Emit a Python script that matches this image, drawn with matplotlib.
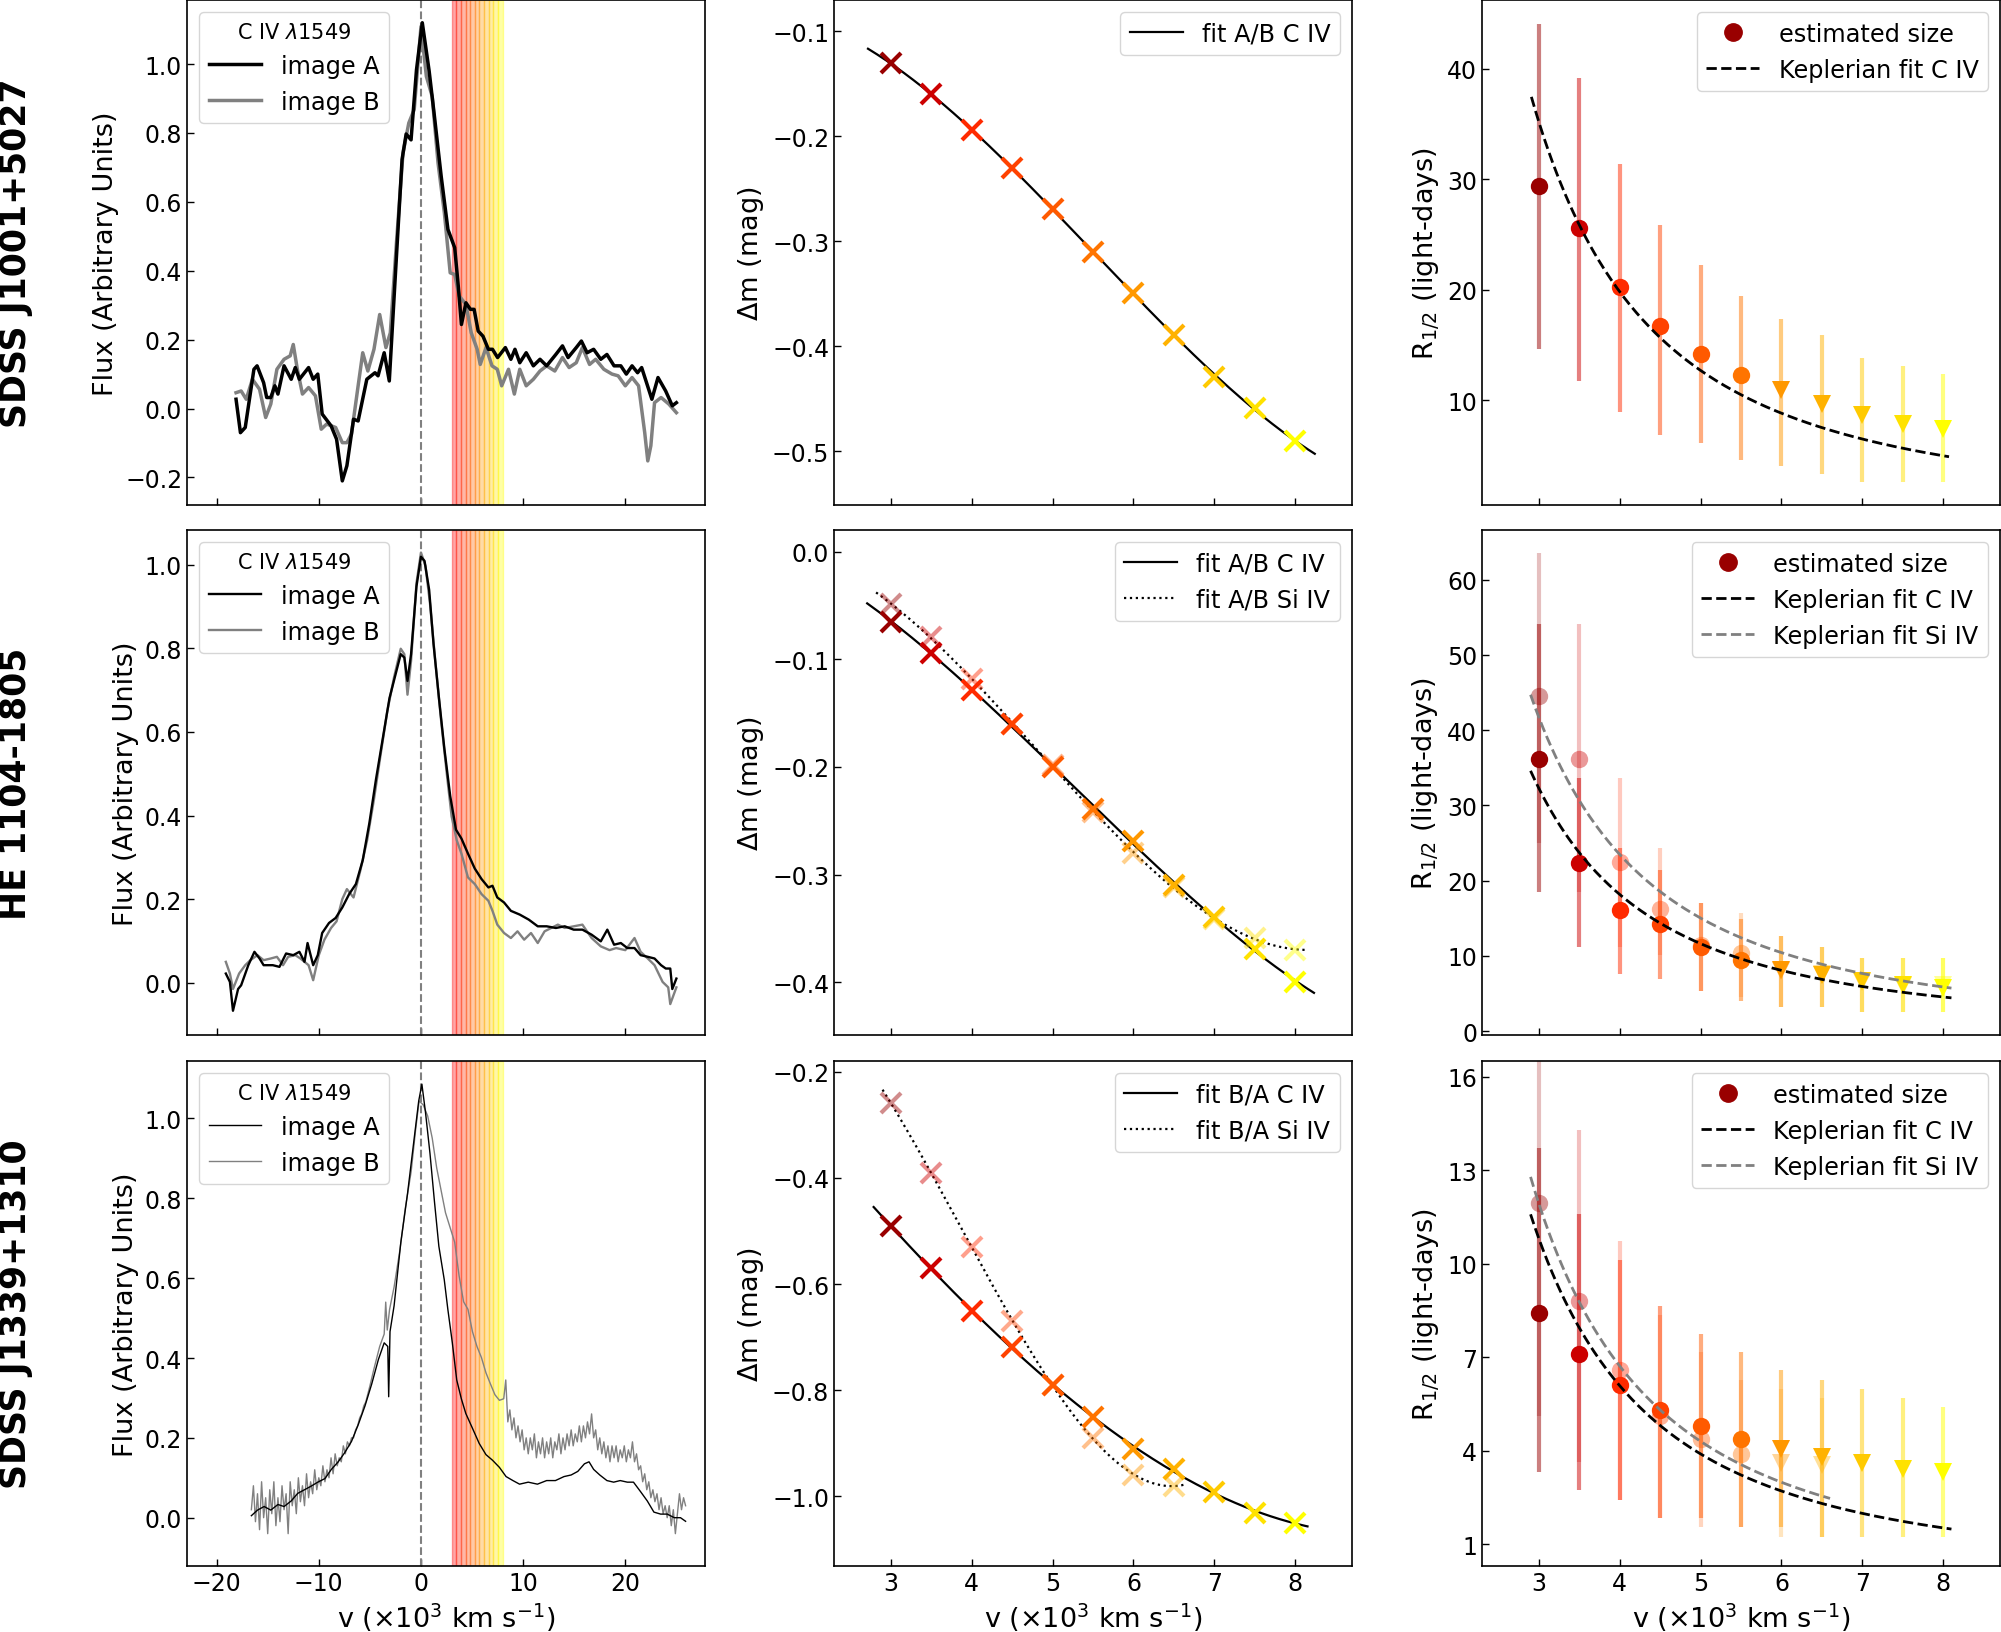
"""
Spectra, magnitude differences and Keplerian size fits for three lensed quasars
"""
import numpy as np
import matplotlib
matplotlib.use("Agg")
import matplotlib.pyplot as plt
from matplotlib.lines import Line2D

plt.rcParams["font.family"] = "DejaVu Sans"
plt.rcParams["mathtext.fontset"] = "dejavusans"

# ---------------- spectra (v in 1e3 km/s, flux) ----------------
v1_a = [-18.1, -17.67, -17.2, -16.35, -16.04, -15.4, -15.1, -14.7, -14.3, -14.0, -13.4, -12.7, -12.3,
        -11.9, -11.0, -10.55, -10.1, -9.67, -8.8, -8.26, -7.7, -7.25, -6.6, -6.15, -5.3, -4.5, -4.2,
        -3.6, -3.1, -2.55, -1.85, -1.45, -0.97, -0.44, 0.13, 0.8, 1.3, 1.98, 2.64, 3.3, 3.65, 3.96,
        4.4, 4.84, 5.2, 5.6, 6.07, 6.6, 7.0, 7.5, 8.26, 8.8, 9.2, 9.67, 10.3, 11.0, 11.65, 12.3, 13.2,
        13.85, 14.4, 15.2, 15.7, 16.26, 16.9, 17.6, 18.2, 18.9, 19.56, 20.1, 20.66, 21.2, 21.6, 22.6,
        23.2, 23.95, 24.6, 25.0]
f1_a = [0.027, -0.07, -0.055, 0.114, 0.124, 0.075, 0.032, 0.032, 0.066, 0.042, 0.124, 0.085, 0.119,
        0.085, 0.119, 0.085, 0.10, -0.016, -0.05, -0.089, -0.21, -0.166, -0.031, -0.036, 0.085, 0.104,
        0.095, 0.162, 0.08, 0.365, 0.723, 0.797, 0.78, 0.983, 1.12, 0.98, 0.853, 0.674, 0.52, 0.467,
        0.356, 0.244, 0.307, 0.288, 0.288, 0.225, 0.21, 0.172, 0.172, 0.148, 0.177, 0.143, 0.172,
        0.133, 0.162, 0.124, 0.143, 0.124, 0.157, 0.182, 0.148, 0.177, 0.196, 0.162, 0.172, 0.143,
        0.157, 0.124, 0.124, 0.10, 0.124, 0.104, 0.119, 0.027, 0.09, 0.051, 0.008, 0.017]
v1_b = [-18.1, -17.6, -17.1, -16.5, -15.8, -15.2, -14.7, -14.1, -13.4, -12.8, -12.5, -12.1, -11.6,
        -11.0, -10.33, -9.76, -9.23, -8.35, -7.7, -7.25, -6.8, -6.15, -5.7, -5.2, -4.6, -4.04, -3.43,
        -3.0, -2.4, -1.76, -1.19, -0.66, 0.0, 0.53, 1.1, 1.67, 2.29, 2.86, 3.3, 3.74, 4.4, 4.92, 5.5,
        5.8, 6.37, 6.95, 7.47, 7.9, 8.57, 9.14, 9.67, 10.3, 11.0, 11.65, 12.3, 13.1, 13.85, 14.5, 15.2,
        15.8, 16.5, 17.1, 17.9, 18.7, 19.3, 20.0, 20.66, 21.3, 21.9, 22.2, 22.5, 22.86, 23.5, 24.26, 25.0]
f1_b = [0.046, 0.051, 0.027, 0.085, 0.056, -0.026, 0.013, 0.114, 0.143, 0.153, 0.186, 0.114, 0.042,
        0.061, 0.037, -0.06, -0.045, -0.055, -0.099, -0.099, -0.074, 0.066, 0.162, 0.109, 0.172, 0.273,
        0.177, 0.22, 0.481, 0.742, 0.829, 0.868, 1.109, 0.964, 0.906, 0.713, 0.568, 0.394, 0.389,
        0.327, 0.302, 0.22, 0.172, 0.128, 0.177, 0.124, 0.114, 0.066, 0.114, 0.042, 0.114, 0.066,
        0.085, 0.109, 0.124, 0.109, 0.148, 0.119, 0.133, 0.177, 0.128, 0.143, 0.114, 0.10, 0.095,
        0.066, 0.09, 0.066, -0.07, -0.152, -0.108, 0.017, 0.032, 0.013, -0.012]

v2_a = [-19.1, -18.7, -18.4, -17.9, -17.6, -16.9, -16.3, -15.8, -15.4, -14.5, -13.85, -13.2, -12.5,
        -11.9, -11.4, -11.1, -10.55, -10.1, -9.67, -9.0, -8.35, -7.7, -7.03, -6.37, -5.7, -5.05, -4.4,
        -3.74, -3.08, -2.4, -1.98, -1.63, -1.32, -0.97, -0.44, 0.0, 0.35, 0.8, 1.23, 1.76, 2.29, 2.86,
        3.43, 3.96, 4.6, 5.27, 5.93, 6.6, 7.0, 7.47, 8.13, 8.8, 9.67, 10.55, 11.43, 12.3, 13.2, 14.07,
        14.95, 15.8, 16.7, 17.6, 18.24, 18.9, 19.56, 20.2, 20.9, 21.5, 22.2, 22.86, 23.5, 23.96, 24.4,
        24.6, 25.0]
f2_a = [0.022, 0.002, -0.067, -0.015, -0.006, 0.042, 0.074, 0.058, 0.042, 0.042, 0.038, 0.07, 0.066,
        0.074, 0.05, 0.095, 0.042, 0.066, 0.119, 0.143, 0.155, 0.18, 0.212, 0.236, 0.293, 0.382, 0.487,
        0.584, 0.681, 0.746, 0.786, 0.778, 0.722, 0.786, 0.948, 1.019, 1.009, 0.94, 0.81, 0.681, 0.56,
        0.447, 0.366, 0.345, 0.309, 0.273, 0.248, 0.228, 0.232, 0.204, 0.192, 0.172, 0.163, 0.151,
        0.135, 0.135, 0.131, 0.135, 0.127, 0.127, 0.115, 0.099, 0.127, 0.091, 0.095, 0.083, 0.083,
        0.066, 0.062, 0.058, 0.042, 0.034, 0.034, -0.015, 0.01]
v2_b = [-19.1, -18.7, -18.4, -17.8, -17.2, -16.7, -16.0, -15.4, -14.7, -14.1, -13.5, -13.0, -12.3,
        -11.8, -11.0, -10.55, -10.0, -9.45, -8.8, -8.26, -7.7, -7.25, -6.6, -5.93, -5.27, -4.6, -3.96,
        -3.3, -2.64, -1.98, -1.63, -1.32, -0.97, -0.44, 0.0, 0.44, 0.88, 1.4, 1.98, 2.55, 3.0, 3.5,
        3.96, 4.6, 5.27, 5.93, 6.6, 7.0, 7.47, 8.13, 8.8, 9.45, 10.1, 10.77, 11.43, 12.1, 12.75, 13.4,
        14.07, 14.95, 15.8, 16.7, 17.6, 18.46, 19.1, 20.0, 20.9, 21.5, 22.2, 22.86, 23.65, 24.2, 24.4,
        25.0]
f2_b = [0.05, 0.022, -0.015, 0.022, 0.042, 0.054, 0.066, 0.054, 0.058, 0.062, 0.042, 0.062, 0.066,
        0.058, 0.042, 0.006, 0.066, 0.103, 0.131, 0.147, 0.2, 0.224, 0.204, 0.269, 0.341, 0.439, 0.544,
        0.649, 0.73, 0.799, 0.786, 0.689, 0.77, 0.956, 1.029, 0.997, 0.908, 0.77, 0.625, 0.495, 0.398,
        0.341, 0.309, 0.252, 0.236, 0.212, 0.196, 0.172, 0.139, 0.119, 0.107, 0.123, 0.103, 0.119,
        0.095, 0.123, 0.131, 0.139, 0.131, 0.135, 0.139, 0.107, 0.087, 0.078, 0.083, 0.078, 0.107,
        0.074, 0.058, 0.042, 0.002, -0.011, -0.051, -0.011]

v3_a = [-16.6, -16.0, -15.35, -14.7, -14.0, -13.4, -12.7, -12.06, -11.4, -10.75, -10.1, -9.4, -8.77,
        -8.1, -7.46, -6.8, -6.14, -5.48, -4.82, -4.17, -3.6, -3.25, -3.16, -3.03, -2.63, -1.97, -1.32,
        -0.66, -0.22, 0.09, 0.44, 0.88, 1.32, 1.75, 2.28, 2.63, 3.07, 3.5, 3.95, 4.39, 5.04, 5.7, 6.36,
        7.0, 7.68, 8.33, 9.0, 9.65, 10.5, 11.4, 12.3, 13.16, 14.0, 14.7, 15.35, 16.0, 16.45, 16.9,
        17.5, 18.2, 18.86, 19.5, 20.2, 20.8, 21.5, 22.15, 22.8, 23.46, 24.1, 24.8, 25.4, 25.9]
f3_a = [0.005, 0.019, 0.028, 0.019, 0.033, 0.028, 0.042, 0.061, 0.07, 0.079, 0.089, 0.098, 0.121,
        0.14, 0.163, 0.191, 0.233, 0.28, 0.335, 0.396, 0.438, 0.429, 0.303, 0.466, 0.531, 0.69, 0.811,
        0.951, 1.044, 1.086, 1.016, 0.913, 0.792, 0.68, 0.596, 0.522, 0.438, 0.345, 0.298, 0.261,
        0.224, 0.186, 0.158, 0.144, 0.126, 0.103, 0.093, 0.084, 0.089, 0.084, 0.093, 0.093, 0.103,
        0.107, 0.116, 0.135, 0.14, 0.121, 0.107, 0.093, 0.089, 0.093, 0.089, 0.089, 0.065, 0.042,
        0.014, 0.009, 0.009, 0.0, 0.0, -0.009]
v3_b = [-16.6, -16.4, -16.2, -16.0, -15.8, -15.6, -15.4, -15.2, -15.0, -14.8, -14.6, -14.4, -14.2,
        -14.0, -13.8, -13.6, -13.4, -13.2, -13.0, -12.8, -12.6, -12.4, -12.2, -12.0, -11.8, -11.6,
        -11.4, -11.2, -11.0, -10.8, -10.6, -10.4, -10.2, -10.0, -9.8, -9.6, -9.4, -9.2, -9.0, -8.8,
        -8.6, -8.4, -8.2, -8.0, -7.8, -7.6, -7.4, -7.2, -7.0, -6.8, -6.6, -6.4, -6.2, -6.0, -5.8,
        -5.6, -5.4, -5.2, -5.0, -4.6, -4.04, -3.6, -3.45, -3.3, -3.07, -2.63, -2.06, -1.54, -0.96,
        -0.53, -0.18, 0.22, 0.66, 1.1, 1.54, 1.97, 2.4, 2.85, 3.3, 3.73, 4.17, 4.6, 5.04, 5.48, 5.92,
        6.36, 6.8, 7.24, 7.68, 8.1, 8.3, 8.5, 8.7, 8.9, 9.1, 9.3, 9.5, 9.7, 9.9, 10.1, 10.3, 10.5,
        10.7, 10.9, 11.1, 11.3, 11.5, 11.7, 11.9, 12.1, 12.3, 12.5, 12.7, 12.9, 13.1, 13.3, 13.5,
        13.7, 13.9, 14.1, 14.3, 14.5, 14.7, 14.9, 15.1, 15.3, 15.5, 15.7, 15.9, 16.1, 16.3, 16.5,
        16.7, 16.9, 17.1, 17.3, 17.5, 17.7, 17.9, 18.1, 18.3, 18.5, 18.7, 18.9, 19.1, 19.3, 19.5,
        19.7, 19.9, 20.1, 20.3, 20.5, 20.7, 20.9, 21.1, 21.3, 21.5, 21.7, 21.9, 22.1, 22.3, 22.5,
        22.7, 22.9, 23.1, 23.3, 23.5, 23.7, 23.9, 24.1, 24.3, 24.5, 24.7, 24.9, 25.1, 25.3, 25.5,
        25.7, 25.9]
f3_b = [0.02, 0.08, -0.01, 0.06, -0.03, 0.09, 0.0, 0.05, -0.04, 0.07, 0.01, 0.09, -0.02,
        0.05, -0.01, 0.08, 0.02, 0.06, -0.04, 0.09, 0.03, 0.07, 0.01, 0.10, 0.04, 0.08,
        0.03, 0.11, 0.05, 0.09, 0.06, 0.12, 0.07, 0.10, 0.08, 0.13, 0.09, 0.12, 0.10, 0.15,
        0.11, 0.16, 0.13, 0.15, 0.14, 0.18, 0.16, 0.19, 0.18, 0.20, 0.20, 0.22, 0.23, 0.25, 0.26,
        0.28, 0.29, 0.31, 0.33, 0.373, 0.429, 0.46, 0.54, 0.47, 0.522, 0.578, 0.671, 0.774, 0.867,
        0.97, 1.044, 1.034, 1.006, 0.951, 0.876, 0.82, 0.764, 0.727, 0.69, 0.606, 0.541, 0.522, 0.466,
        0.429, 0.401, 0.363, 0.335, 0.308, 0.294, 0.298, 0.345, 0.24, 0.27, 0.22, 0.25, 0.20, 0.23,
        0.19, 0.22, 0.17, 0.20, 0.16, 0.20, 0.17, 0.21, 0.15, 0.19, 0.16, 0.20, 0.15, 0.19, 0.16,
        0.20, 0.15, 0.19, 0.17, 0.21, 0.16, 0.20, 0.17, 0.21, 0.18, 0.22, 0.18, 0.21, 0.19, 0.23,
        0.19, 0.23, 0.20, 0.24, 0.21, 0.26, 0.20, 0.22, 0.17, 0.20, 0.16, 0.19, 0.15, 0.18, 0.14,
        0.18, 0.15, 0.18, 0.14, 0.17, 0.15, 0.18, 0.14, 0.17, 0.15, 0.19, 0.14, 0.16, 0.12, 0.13,
        0.09, 0.11, 0.07, 0.09, 0.05, 0.07, 0.04, 0.06, 0.02, 0.05, 0.01, 0.03, 0.0, 0.03, -0.02,
        0.02, -0.04, 0.01, 0.06, 0.02, 0.05, 0.03]

# ---------------- velocity bins ----------------
vel = [3.0, 3.5, 4.0, 4.5, 5.0, 5.5, 6.0, 6.5, 7.0, 7.5, 8.0]
bin_colors = ["#990000", "#cc0000", "#ff2a00", "#ff4200", "#ff5a00", "#ff7400",
              "#ff9800", "#ffb200", "#ffca00", "#ffe200", "#ffff00"]

# ---------------- magnitude differences ----------------
dm1_civ = [-0.130, -0.160, -0.194, -0.230, -0.269, -0.310, -0.349, -0.389, -0.429, -0.459, -0.490]
dm2_civ = [-0.065, -0.094, -0.129, -0.160, -0.200, -0.239, -0.269, -0.310, -0.339, -0.369, -0.400]
dm2_si = [-0.049, -0.079, -0.118, -0.160, -0.198, -0.242, -0.280, -0.312, -0.341, -0.359, -0.370]
dm3_civ = [-0.491, -0.570, -0.651, -0.718, -0.790, -0.850, -0.911, -0.949, -0.991, -1.031, -1.050]
dm3_si = [-0.259, -0.390, -0.530, -0.670, -0.790, -0.890, -0.960, -0.980]

# ---------------- half-light radii ----------------
r1_civ = [29.4, 25.6, 20.2, 16.7, 14.2, 12.25, 10.9, 9.6, 8.6, 7.8, 7.4]
r1_civ_lo = [14.6, 11.7, 8.95, 6.8, 6.1, 4.6, 4.0, 3.35, 2.6, 2.6, 2.6]
r1_civ_hi = [44.0, 39.1, 31.4, 25.8, 22.2, 19.4, 17.3, 15.9, 13.8, 13.1, 12.4]

r2_civ = [36.2, 22.4, 16.1, 14.2, 11.2, 9.4, 8.1, 7.5, 6.7, 6.2, 5.8]
r2_civ_lo = [18.5, 11.2, 7.6, 6.9, 5.4, 4.0, 3.2, 3.2, 2.6, 2.6, 2.6]
r2_civ_hi = [54.1, 33.7, 24.3, 21.4, 17.0, 14.9, 12.6, 11.2, 9.75, 9.75, 9.75]
r2_si = [44.5, 36.2, 22.5, 16.2, 11.4, 10.4, 8.0, 7.6, 6.6, 6.0, 6.2]
r2_si_lo = [25.0, 18.5, 11.2, 10.1, 5.4, 4.6, 3.2, 3.2, 2.6, 2.6, 2.6]
r2_si_hi = [63.6, 54.1, 33.7, 24.3, 17.0, 15.7, 12.6, 11.2, 9.75, 9.75, 9.75]

r3_civ = [8.42, 7.11, 6.10, 5.30, 4.80, 4.37, 4.04, 3.80, 3.60, 3.41, 3.33]
r3_civ_lo = [3.3, 2.73, 2.43, 1.83, 1.83, 1.54, 1.54, 1.24, 1.24, 1.24, 1.24]
r3_civ_hi = [13.7, 11.6, 10.13, 8.64, 7.74, 7.18, 6.58, 6.27, 5.99, 5.69, 5.39]
r3_si = [11.95, 8.79, 6.58, 5.12, 4.38, 3.89, 3.60, 3.53]
r3_si_lo = [5.12, 3.63, 2.43, 1.83, 1.54, 1.54, 1.24, 1.24]
r3_si_hi = [17.5, 14.3, 10.73, 8.34, 7.18, 6.27, 5.99, 5.69]

# Keplerian fit constants R = K / v^2
kep_K = {"r1_civ": 317.0, "r2_civ": 291.0, "r2_si": 376.0, "r3_civ": 97.4, "r3_si": 107.5}

names = ["SDSS J1001+5027", "HE 1104-1805", "SDSS J1339+1310"]
ratio = ["A/B", "A/B", "B/A"]

LEG_FS = 17.3
LAB_FS = 19.5
TICK_FS = 17

W, H = 2001, 1633
fig = plt.figure(figsize=(W / 100, H / 100), dpi=100)
cols = [187, 834, 1482]
tops = [1, 531, 1062]
aw, ah = 518, 505


def add(r, c):
    ax = fig.add_axes([cols[c] / W, 1 - (tops[r] + ah) / H, aw / W, ah / H])
    ax.tick_params(direction="in", labelsize=TICK_FS, length=5, width=1)
    for sp in ax.spines.values():
        sp.set_linewidth(1.2)
    return ax


XLAB = r"v ($\times$10$^3$ km s$^{-1}$)"
spectra = [(v1_a, f1_a, v1_b, f1_b), (v2_a, f2_a, v2_b, f2_b), (v3_a, f3_a, v3_b, f3_b)]
spec_lw = [2.5, 1.7, 1.0]
spec_ylim = [(-0.28, 1.186), (-0.125, 1.083), (-0.121, 1.144)]

# ── left column: spectra ──
band_edges = np.linspace(3.0, 8.0, 12)
for r in range(3):
    ax = add(r, 0)
    for i in range(11):
        ax.axvspan(band_edges[i], band_edges[i + 1], color=plt.cm.autumn(i / 10),
                   alpha=0.35, lw=1)
    ax.axvline(0, color="gray", ls="--", lw=1.5)
    va, fa, vb, fb = spectra[r]
    hb, = ax.plot(vb, fb, color="gray", lw=spec_lw[r])
    ha, = ax.plot(va, fa, color="black", lw=spec_lw[r])
    ax.set_xlim(-22.9, 27.8)
    ax.set_ylim(*spec_ylim[r])
    ax.set_xticks([-20, -10, 0, 10, 20])
    ax.set_yticks(np.arange(-0.2 if r == 0 else 0.0, 1.01, 0.2))
    ax.set_ylabel("Flux (Arbitrary Units)", fontsize=LAB_FS)
    ax.legend([ha, hb], ["image A", "image B"], title=r"C IV $\lambda$1549",
              loc="upper left", fontsize=LEG_FS, title_fontsize=15, handlelength=2.2)
    if r < 2:
        ax.tick_params(labelbottom=False)
    else:
        ax.set_xlabel(XLAB, fontsize=LAB_FS)
    fig.text(16 / W, 1 - (tops[r] + ah / 2) / H, names[r], rotation=90, fontsize=25,
             fontweight="bold", ha="center", va="center")

# ── middle column: magnitude differences ──
dm_sets = [(dm1_civ, None), (dm2_civ, dm2_si), (dm3_civ, dm3_si)]
civ_range = [(2.72, 8.24), (2.71, 8.23), (2.79, 8.15)]
si_range = [None, (2.82, 8.14), (2.9, 6.65)]
dm_ylim = [(-0.551, -0.07), (-0.449, 0.02), (-1.131, -0.18)]
dm_ticks = [np.arange(-0.5, -0.05, 0.1), np.arange(-0.4, 0.05, 0.1), np.arange(-1.0, -0.15, 0.2)]
for r in range(3):
    ax = add(r, 1)
    civ, si = dm_sets[r]
    handles, labels = [], []
    c = np.polyfit(vel, civ, 3)
    xx = np.linspace(*civ_range[r], 200)
    h1, = ax.plot(xx, np.polyval(c, xx), color="black", lw=1.6)
    handles.append(h1); labels.append(f"fit {ratio[r]} C IV")
    if si is not None:
        n = len(si)
        c2 = np.polyfit(vel[:n], si, 3)
        xx2 = np.linspace(*si_range[r], 200)
        h2, = ax.plot(xx2, np.polyval(c2, xx2), color="black", lw=1.6, ls=":")
        handles.append(h2); labels.append(f"fit {ratio[r]} Si IV")
        for v, d, col in zip(vel[:n], si, bin_colors):
            ax.plot(v, d, "x", color=col, ms=14, mew=3, alpha=0.45)
    for v, d, col in zip(vel, civ, bin_colors):
        ax.plot(v, d, "x", color=col, ms=14, mew=3)
    ax.set_xlim(2.3, 8.7)
    ax.set_ylim(*dm_ylim[r])
    ax.set_yticks(dm_ticks[r])
    ax.set_xticks([3, 4, 5, 6, 7, 8])
    ax.set_ylabel(r"$\Delta$m (mag)", fontsize=LAB_FS)
    ax.legend(handles, labels, loc="upper right", fontsize=LEG_FS, handlelength=2.2)
    if r < 2:
        ax.tick_params(labelbottom=False)
    else:
        ax.set_xlabel(XLAB, fontsize=LAB_FS)

# ── right column: sizes ──
r_sets = [
    ((r1_civ, r1_civ_lo, r1_civ_hi), None, "r1_civ", None, None),
    ((r2_civ, r2_civ_lo, r2_civ_hi), (r2_si, r2_si_lo, r2_si_hi), "r2_civ", "r2_si", (2.9, 8.1)),
    ((r3_civ, r3_civ_lo, r3_civ_hi), (r3_si, r3_si_lo, r3_si_hi), "r3_civ", "r3_si", (2.9, 6.6)),
]
kep_civ_range = [(2.91, 8.07), (2.9, 8.1), (2.9, 8.1)]
r_ylim = [(0.5, 46.2), (-0.5, 66.6), (0.3, 16.5)]
r_ticks = [[10, 20, 30, 40], [0, 10, 20, 30, 40, 50, 60], [1, 4, 7, 10, 13, 16]]


def draw_sizes(ax, vals, lo, hi, alpha_pt, alpha_bar):
    for i, (v, y, l, h) in enumerate(zip(vel, vals, lo, hi)):
        col = bin_colors[i]
        ax.vlines(v, l, h, colors=col, alpha=alpha_bar, lw=3)
        ax.plot(v, y, "o" if v < 6 else "v", color=col, ms=12.5, alpha=alpha_pt, mew=0)


for r in range(3):
    ax = add(r, 2)
    civ, si, kc, ks, srange = r_sets[r]
    if si is not None:
        draw_sizes(ax, *si, alpha_pt=0.4, alpha_bar=0.25)
    draw_sizes(ax, *civ, alpha_pt=1.0, alpha_bar=0.5)
    handles = [Line2D([], [], marker="o", color=bin_colors[0], ls="none", ms=12.5)]
    labels = ["estimated size"]
    xx = np.linspace(*kep_civ_range[r], 200)
    h1, = ax.plot(xx, kep_K[kc] / xx ** 2, color="black", ls="--", lw=2)
    handles.append(h1); labels.append("Keplerian fit C IV")
    if ks is not None:
        xs = np.linspace(*srange, 200)
        h2, = ax.plot(xs, kep_K[ks] / xs ** 2, color="gray", ls="--", lw=2)
        handles.append(h2); labels.append("Keplerian fit Si IV")
    ax.set_xlim(2.3, 8.7)
    ax.set_ylim(*r_ylim[r])
    ax.set_yticks(r_ticks[r])
    ax.set_xticks([3, 4, 5, 6, 7, 8])
    ax.set_ylabel(r"R$_{1/2}$ (light-days)", fontsize=LAB_FS)
    ax.legend(handles, labels, loc="upper right", fontsize=LEG_FS, handlelength=2.2)
    if r < 2:
        ax.tick_params(labelbottom=False)
    else:
        ax.set_xlabel(XLAB, fontsize=LAB_FS)

fig.savefig("out.png", dpi=100)
